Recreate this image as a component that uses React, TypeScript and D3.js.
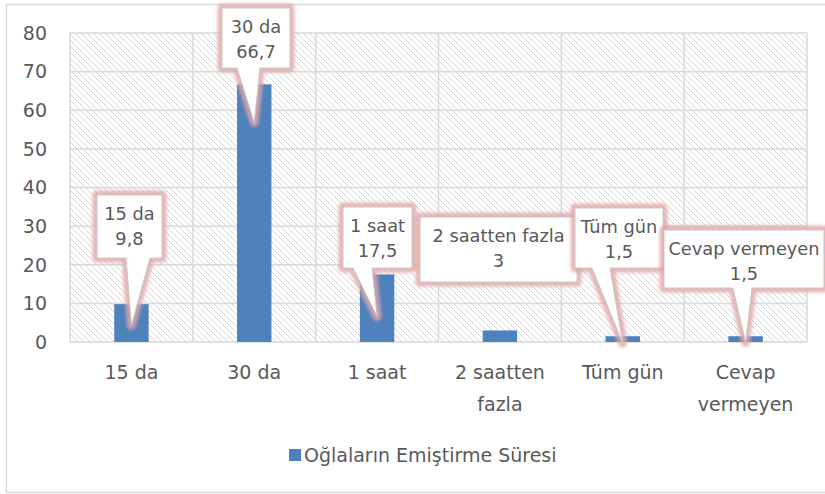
import React, { useEffect, useRef } from "react";
import * as d3 from "d3";

// chart data
const categories = ["15 da", "30 da", "1 saat", "2 saatten fazla", "Tüm gün", "Cevap vermeyen"];
const values = [9.8, 66.7, 17.5, 3, 1.5, 1.5];
const xLabelLines = [["15 da"], ["30 da"], ["1 saat"], ["2 saatten", "fazla"], ["Tüm gün"], ["Cevap", "vermeyen"]];
const yTicks = [0, 10, 20, 30, 40, 50, 60, 70, 80];
const seriesName = "Oğlaların Emiştirme Süresi";

// where each callout box sits (pixels), and where its pointer leaves the box
const calloutLayout = [
  { x0: 97, x1: 162, y0: 195, y1: 258, b0: 126, b1: 150, tipDy: 21, pointer: true },
  { x0: 222, x1: 290, y0: 8, y1: 68, b0: 237, b1: 260, tipDy: 38, pointer: true },
  { x0: 343, x1: 412, y0: 207, y1: 268, b0: 353, b1: 372, tipDy: 42, pointer: true },
  { x0: 420, x1: 577, y0: 217, y1: 282, b0: 0, b1: 0, tipDy: 0, pointer: false },
  { x0: 575, x1: 663, y0: 208, y1: 268, b0: 592, b1: 610, tipDy: 7, pointer: true },
  { x0: 664, x1: 824, y0: 230, y1: 288, b0: 733, b1: 752, tipDy: 6, pointer: true },
];

const FONT = "'DejaVu Sans', 'Open Sans', sans-serif";
const TEXT = "#595959";
const GRID = "#d9d9d9";
const BAR = "#4f81bd";

export default function App() {
  const node = useRef<SVGSVGElement | null>(null);

  useEffect(() => {
    const width = 825, height = 494;
    const plot = { left: 70, right: 807, top: 33, bottom: 342 };

    const svg = d3.select(node.current);
    svg.selectAll("*").remove();

    const defs = svg.append("defs");
    const pat = defs
      .append("pattern")
      .attr("id", "hatch")
      .attr("patternUnits", "userSpaceOnUse")
      .attr("width", 6)
      .attr("height", 6);
    pat.append("rect").attr("width", 6).attr("height", 6).attr("fill", "#fff");
    pat
      .append("path")
      .attr("d", "M-1,-1 L7,7 M-4,2 L2,8 M4,-2 L8,2")
      .attr("stroke", "#d4d4d4")
      .attr("stroke-width", 1);

    const glow = defs.append("filter").attr("id", "glow").attr("x", "-20%").attr("y", "-20%").attr("width", "140%").attr("height", "140%");
    glow.append("feGaussianBlur").attr("stdDeviation", 1.6);

    // outer chart border
    svg
      .append("rect")
      .attr("x", 6.5)
      .attr("y", 4.5)
      .attr("width", 830)
      .attr("height", 488)
      .attr("fill", "#fff")
      .attr("stroke", GRID)
      .attr("stroke-width", 1.5);

    const xScale = d3
      .scaleBand()
      .domain(categories)
      .range([plot.left, plot.right])
      .paddingInner(0.72)
      .paddingOuter(0.36);

    const yScale = d3.scaleLinear().domain([0, 80]).range([plot.bottom, plot.top]);

    // hatched plot background
    svg
      .append("rect")
      .attr("x", plot.left)
      .attr("y", plot.top)
      .attr("width", plot.right - plot.left)
      .attr("height", plot.bottom - plot.top)
      .attr("fill", "url(#hatch)");

    // horizontal grid
    svg
      .append("g")
      .selectAll("line")
      .data(yTicks)
      .enter()
      .append("line")
      .attr("x1", plot.left)
      .attr("x2", plot.right)
      .attr("y1", (d) => yScale(d))
      .attr("y2", (d) => yScale(d))
      .attr("stroke", GRID)
      .attr("stroke-width", 1.5);

    // vertical grid at category boundaries
    const step = xScale.step();
    const bounds = d3.range(categories.length + 1).map((i) => plot.left + i * step);
    svg
      .append("g")
      .selectAll("line")
      .data(bounds)
      .enter()
      .append("line")
      .attr("x1", (d) => d)
      .attr("x2", (d) => d)
      .attr("y1", plot.top)
      .attr("y2", plot.bottom)
      .attr("stroke", GRID)
      .attr("stroke-width", 1.5);

    // bars
    svg
      .append("g")
      .selectAll("rect")
      .data(values)
      .enter()
      .append("rect")
      .attr("x", (d, i) => xScale(categories[i])!)
      .attr("y", (d) => yScale(d))
      .attr("width", xScale.bandwidth())
      .attr("height", (d) => yScale(0) - yScale(d))
      .attr("fill", BAR);

    // y tick labels
    svg
      .append("g")
      .selectAll("text")
      .data(yTicks)
      .enter()
      .append("text")
      .attr("x", 47)
      .attr("y", (d) => yScale(d))
      .attr("dy", "0.36em")
      .attr("text-anchor", "end")
      .attr("font-family", FONT)
      .attr("font-size", 19)
      .attr("fill", TEXT)
      .text((d) => d);

    // x tick labels
    const xl = svg
      .append("g")
      .selectAll("text")
      .data(xLabelLines)
      .enter()
      .append("text")
      .attr("text-anchor", "middle")
      .attr("font-family", FONT)
      .attr("font-size", 19)
      .attr("fill", TEXT)
      .attr("x", (d, i) => xScale(categories[i])! + xScale.bandwidth() / 2);
    xl.selectAll("tspan")
      .data((d) => d)
      .enter()
      .append("tspan")
      .attr("x", function () {
        return (this.parentNode as SVGTextElement).getAttribute("x");
      })
      .attr("y", (d, j) => 379 + j * 32)
      .text((d) => d);

    // callouts
    const cg = svg.append("g");
    values.forEach((v, i) => {
      const c = calloutLayout[i];
      const cx = xScale(categories[i])! + xScale.bandwidth() / 2;
      const tipY = yScale(v) + c.tipDy;
      let d = `M${c.x0},${c.y0} L${c.x1},${c.y0} L${c.x1},${c.y1}`;
      if (c.pointer) {
        d += ` L${c.b1},${c.y1} L${cx},${tipY} L${c.b0},${c.y1}`;
      }
      d += ` L${c.x0},${c.y1} Z`;

      cg.append("path")
        .attr("d", d)
        .attr("fill", "none")
        .attr("stroke", "#e3a6a6")
        .attr("stroke-opacity", 0.8)
        .attr("stroke-width", 9)
        .attr("stroke-linejoin", "round")
        .attr("filter", "url(#glow)");
      cg.append("path")
        .attr("d", d)
        .attr("fill", "#fff")
        .attr("stroke", "#c9c9c9")
        .attr("stroke-width", 1);

      const mid = (c.x0 + c.x1) / 2;
      const t = cg
        .append("text")
        .attr("text-anchor", "middle")
        .attr("font-family", FONT)
        .attr("font-size", 17.8)
        .attr("fill", TEXT);
      t.append("tspan").attr("x", mid).attr("y", c.y0 + 25).text(categories[i]);
      t.append("tspan")
        .attr("x", mid)
        .attr("y", c.y0 + 50)
        .text(String(v).replace(".", ","));
    });

    // legend
    const lg = svg.append("g");
    lg.append("rect").attr("x", 289).attr("y", 449).attr("width", 12).attr("height", 12).attr("fill", BAR);
    lg.append("text")
      .attr("x", 304)
      .attr("y", 455)
      .attr("dy", "0.36em")
      .attr("font-family", FONT)
      .attr("font-size", 19)
      .attr("fill", TEXT)
      .text(seriesName);

    svg.attr("width", width).attr("height", height);
  }, []);

  return (
    <svg
      ref={node}
      width={825}
      height={494}
      style={{ position: "absolute", left: 0, top: 0, background: "#fff" }}
    />
  );
}
